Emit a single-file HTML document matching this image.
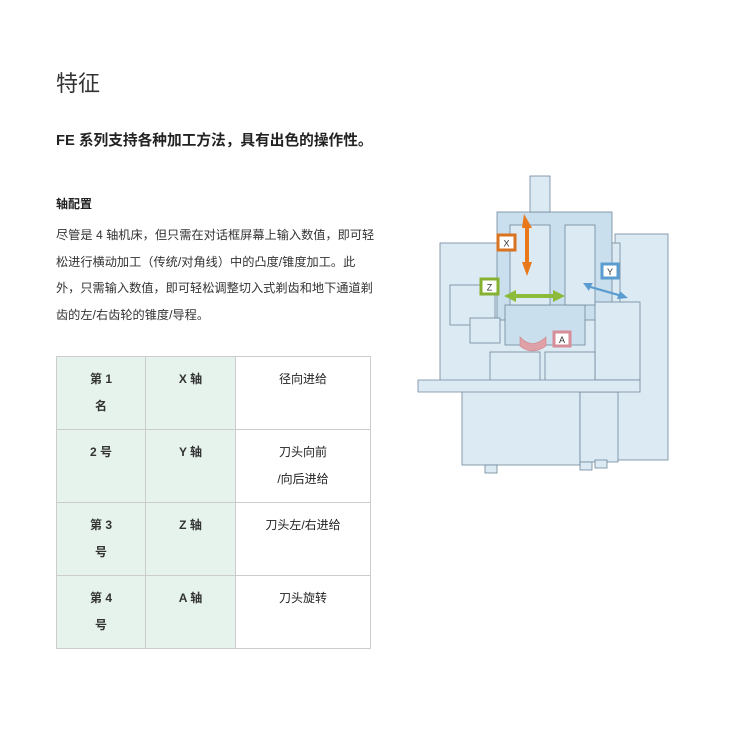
<!DOCTYPE html>
<html><head><meta charset="utf-8"><style>
body{margin:0;width:750px;height:750px;background:#fff;position:relative;font-family:"Liberation Sans","Noto Sans CJK SC",sans-serif;color:#222;overflow:hidden}
.a{position:absolute;white-space:nowrap}
table{position:absolute;left:56px;top:356px;border-collapse:collapse;font-size:12px}
td{border:1px solid #ccc;vertical-align:top;text-align:center;padding:9px 4px 0;line-height:27px;height:63px;box-sizing:border-box}
td.g{background:#e6f3ec;font-weight:bold;color:#333}
</style></head><body>
<div class="a" style="left:56px;top:66px;font-size:22px;color:#333">特征</div>
<div class="a" style="left:56px;top:129px;font-size:14.7px;font-weight:bold">FE 系列支持各种加工方法，具有出色的操作性。</div>
<div class="a" style="left:56px;top:195px;font-size:12px;font-weight:bold">轴配置</div>
<div class="a" style="left:56px;top:222px;font-size:12.2px;line-height:26.7px;color:#333">尽管是 4 轴机床，但只需在对话框屏幕上输入数值，即可轻<br>松进行横动加工（传统/对角线）中的凸度/锥度加工。此<br>外，只需输入数值，即可轻松调整切入式剃齿和地下通道剃<br>齿的左/右齿轮的锥度/导程。</div>
<table>
<tr><td class="g" style="width:89px;height:73px">第 1<br>名</td><td class="g" style="width:90px">X 轴</td><td style="width:135px">径向进给</td></tr>
<tr><td class="g" style="height:73px">2 号</td><td class="g">Y 轴</td><td>刀头向前<br>/向后进给</td></tr>
<tr><td class="g" style="height:73px">第 3<br>号</td><td class="g">Z 轴</td><td>刀头左/右进给</td></tr>
<tr><td class="g" style="height:73px">第 4<br>号</td><td class="g">A 轴</td><td>刀头旋转</td></tr>
</table>
<svg class="a" style="left:0;top:0" width="750" height="750" viewBox="0 0 750 750">
<g fill="#dceaf4" stroke="#6f8799" stroke-width="0.8">
<rect x="615" y="234" width="53" height="226"/>
<rect x="440" y="243" width="180" height="142"/>
<rect x="462" y="390" width="118" height="75"/>
<rect x="580" y="392" width="38" height="70"/>
<rect x="497" y="212" width="115" height="108" fill="#c9dfee"/>
<rect x="530" y="176" width="20" height="36"/>
<rect x="450" y="285" width="45" height="40"/>
<rect x="505" y="305" width="80" height="40" fill="#c9dfee"/>
<rect x="595" y="302" width="45" height="78"/>
<rect x="470" y="318" width="30" height="25"/>
<rect x="490" y="352" width="50" height="30"/>
<rect x="545" y="352" width="50" height="30"/>
<polygon points="418,380 640,380 640,392 418,392"/>
<rect x="485" y="465" width="12" height="8"/><rect x="580" y="462" width="12" height="8"/><rect x="595" y="460" width="12" height="8"/>
<rect x="510" y="225" width="40" height="80"/>
<rect x="565" y="225" width="30" height="80"/>
</g>
<path d="M524 214 L532 228 L529 228 L529 262 L532 262 L527 276 L522 262 L525 262 L525 228 L522 228Z" fill="#e8781a"/>
<rect x="498" y="235" width="17" height="15" fill="#fff" stroke="#d9731f" stroke-width="3"/>
<text x="506.5" y="246.5" font-size="9" text-anchor="middle" fill="#333">X</text>
<path d="M504 296 L516 290 L516 294 L553 294 L553 290 L565 296 L553 302 L553 298 L516 298 L516 302Z" fill="#8cba3a"/>
<rect x="481" y="279" width="17" height="15" fill="#fff" stroke="#86b02f" stroke-width="3"/>
<text x="489.5" y="290.5" font-size="9" text-anchor="middle" fill="#333">Z</text>
<path d="M583 283 L593 283 L591 286 L619 294 L620 291 L628 298 L617 299 L618 296 L590 288 L589 291Z" fill="#5a9ccf"/>
<rect x="602" y="264" width="16" height="14" fill="#fff" stroke="#5a9ccf" stroke-width="3"/>
<text x="610" y="275" font-size="9" text-anchor="middle" fill="#333">Y</text>
<path d="M520 337 Q532 350 546 337 L546 346 Q532 356 520 346Z" fill="#e0a0a8" stroke="#c88" stroke-width="0.6"/>
<rect x="554" y="332" width="16" height="14" fill="#fff" stroke="#d68e98" stroke-width="3"/>
<text x="562" y="343" font-size="9" text-anchor="middle" fill="#333">A</text>
</svg>
</body></html>
